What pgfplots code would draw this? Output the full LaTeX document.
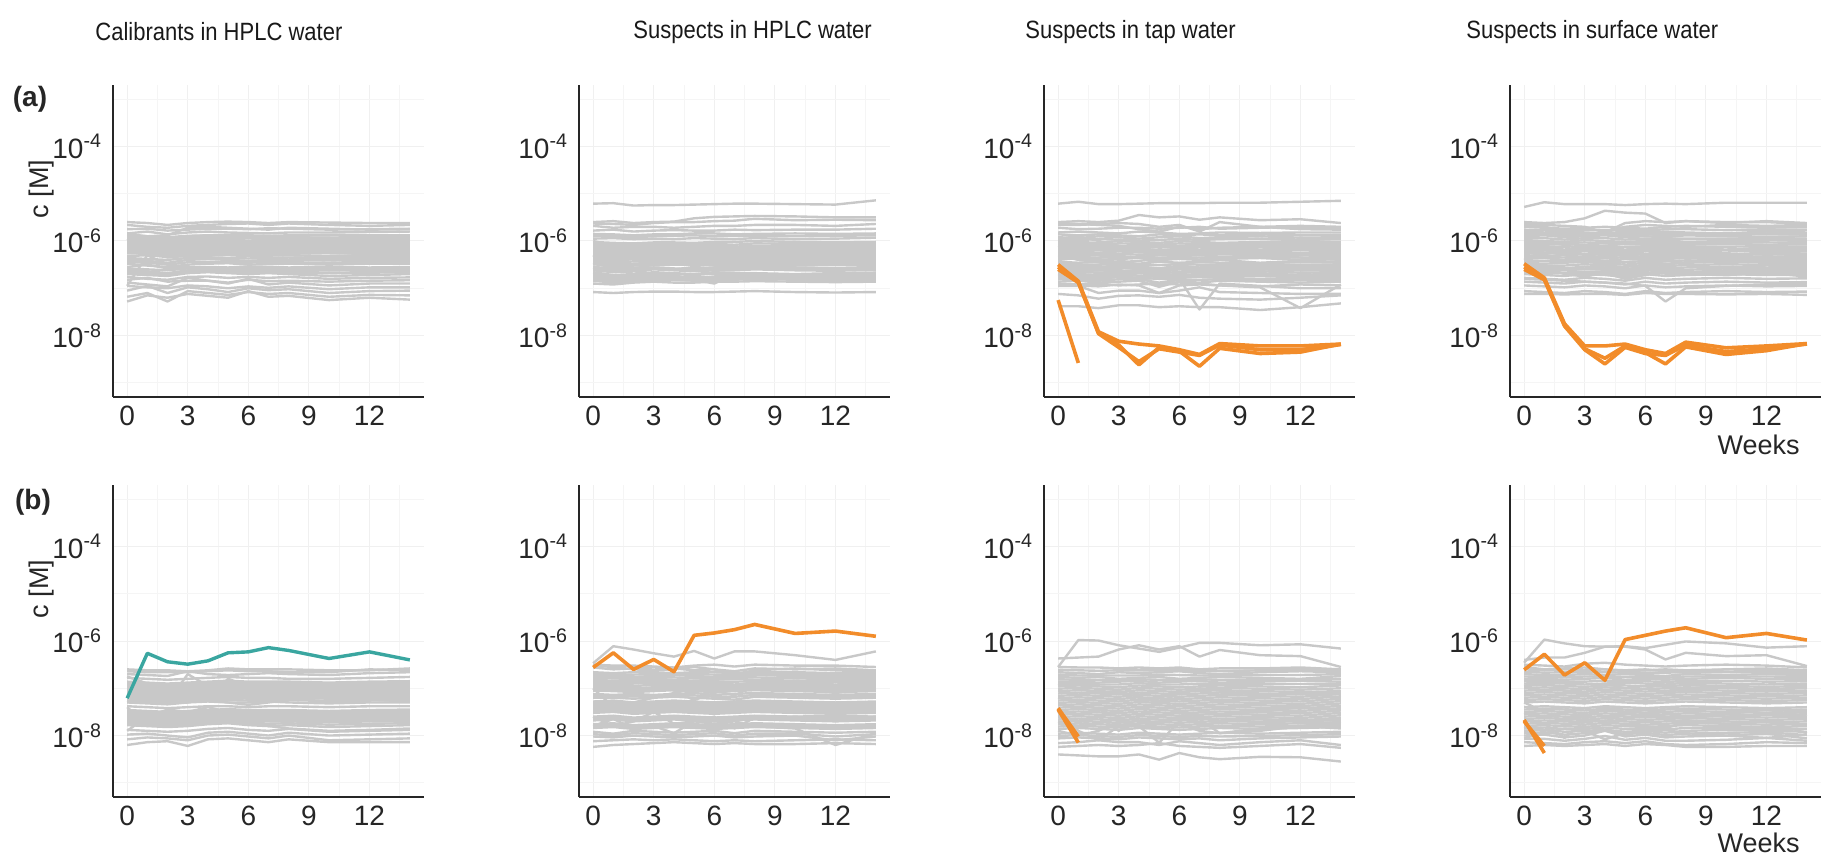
\documentclass[border=0pt]{standalone}
\usepackage{fontspec}
\setmainfont{Liberation Sans}
\usepackage{pgfplots}
\usepackage{pgfplotstable}
\pgfplotsset{compat=1.18}

\definecolor{lg}{RGB}{200,200,200}
\definecolor{orng}{RGB}{242,140,42}
\definecolor{tealc}{RGB}{58,166,160}

\newcommand{\tr}[2]{\pgfplotstabletranspose[colnames from=id, input colnames to=wk]{#1}{#2}}
\newcommand{\plotset}[4]{\pgfplotsinvokeforeach{1,...,#3}{\addplot[#4] table[x=wk, y expr={10^(\thisrow{#2##1})}] {#1};}}

% ---------- values are log10(c [M]) per series (rows), weeks as columns ----------
\pgfplotstableread{
id 0 1 2 3 4 5 6 7 8 10 12 14
s1  -5.60 -5.62 -5.66 -5.62 -5.60 -5.59 -5.60 -5.62 -5.60 -5.61 -5.62 -5.62
s2  -5.66 -5.70 -5.72 -5.68 -5.66 -5.64 -5.63 -5.66 -5.63 -5.66 -5.68 -5.66
s3  -5.75 -5.74 -5.78 -5.76 -5.74 -5.74 -5.75 -5.73 -5.74 -5.76 -5.75 -5.74
s4  -5.84 -5.80 -5.86 -5.82 -5.80 -5.82 -5.83 -5.84 -5.82 -5.82 -5.81 -5.80
s5  -5.90 -5.92 -5.94 -5.90 -5.88 -5.90 -5.90 -5.91 -5.89 -5.88 -5.90 -5.89
s6  -5.95 -5.96 -5.99 -5.96 -5.96 -5.95 -5.94 -5.96 -5.95 -5.95 -5.96 -5.95
s7  -6.00 -6.02 -6.05 -6.01 -6.00 -6.00 -6.01 -6.00 -6.02 -6.00 -6.01 -6.00
s8  -6.04 -6.06 -6.08 -6.05 -6.04 -6.05 -6.04 -6.06 -6.05 -6.04 -6.05 -6.04
s9  -6.08 -6.10 -6.12 -6.09 -6.08 -6.09 -6.10 -6.09 -6.08 -6.10 -6.09 -6.08
s10 -6.12 -6.14 -6.16 -6.13 -6.12 -6.13 -6.12 -6.14 -6.13 -6.12 -6.13 -6.12
s11 -6.16 -6.20 -6.22 -6.18 -6.17 -6.16 -6.18 -6.17 -6.16 -6.18 -6.17 -6.16
s12 -6.20 -6.22 -6.25 -6.22 -6.20 -6.21 -6.22 -6.20 -6.21 -6.20 -6.21 -6.20
s13 -6.26 -6.27 -6.30 -6.27 -6.26 -6.26 -6.27 -6.26 -6.25 -6.26 -6.27 -6.26
s14 -6.32 -6.30 -6.34 -6.32 -6.31 -6.30 -6.32 -6.31 -6.30 -6.32 -6.31 -6.32
s15 -6.40 -6.42 -6.46 -6.40 -6.38 -6.40 -6.42 -6.40 -6.40 -6.41 -6.40 -6.40
s16 -6.48 -6.52 -6.55 -6.50 -6.48 -6.47 -6.50 -6.49 -6.48 -6.50 -6.48 -6.48
s17 -6.55 -6.50 -6.58 -6.56 -6.55 -6.56 -6.54 -6.55 -6.56 -6.55 -6.56 -6.55
s18 -6.62 -6.64 -6.68 -6.62 -6.60 -6.62 -6.61 -6.62 -6.64 -6.62 -6.63 -6.62
s19 -6.70 -6.72 -6.74 -6.68 -6.66 -6.68 -6.70 -6.68 -6.70 -6.74 -6.72 -6.70
s20 -6.76 -6.80 -6.82 -6.76 -6.75 -6.78 -6.76 -6.78 -6.76 -6.80 -6.78 -6.77
s21 -6.82 -6.78 -6.86 -6.84 -6.84 -6.88 -6.82 -6.85 -6.84 -6.86 -6.84 -6.83
s22 -6.88 -6.92 -6.96 -6.78 -6.84 -6.90 -6.80 -6.92 -6.88 -6.94 -6.90 -6.90
s23 -6.95 -6.98 -7.00 -6.94 -6.96 -7.00 -6.96 -6.99 -6.96 -7.02 -6.98 -6.98
s24 -7.05 -6.95 -7.10 -6.98 -7.02 -7.08 -7.00 -7.04 -7.02 -7.10 -7.06 -7.05
s25 -7.18 -7.10 -7.28 -7.06 -7.10 -7.14 -7.08 -7.12 -7.10 -7.18 -7.14 -7.15
s26 -7.28 -7.15 -7.20 -7.12 -7.16 -7.20 -7.06 -7.18 -7.16 -7.25 -7.20 -7.24
s27 -6.95 -6.30 -6.50 -6.55 -6.60 -6.58 -6.62 -6.60 -6.60 -6.62 -6.60 -6.60
s28 -5.95 -6.10 -6.35 -6.30 -6.30 -6.28 -6.30 -6.30 -6.30 -6.32 -6.30 -6.30
s29 -5.85 -5.90 -5.88 -5.72 -5.70 -5.72 -5.74 -5.76 -5.72 -5.74 -5.76 -5.75
s30 -6.10 -6.08 -6.12 -6.10 -6.06 -6.08 -6.10 -6.07 -6.08 -6.10 -6.09 -6.08
s31 -6.00 -6.04 -6.02 -6.00 -6.03 -6.02 -6.00 -6.03 -6.02 -6.00 -6.02 -6.03
s32 -6.14 -6.18 -6.20 -6.16 -6.15 -6.16 -6.15 -6.16 -6.17 -6.15 -6.16 -6.16
s33 -5.88 -5.90 -5.92 -5.89 -5.88 -5.87 -5.88 -5.89 -5.88 -5.87 -5.88 -5.88
s34 -5.93 -5.95 -5.97 -5.93 -5.92 -5.93 -5.92 -5.93 -5.92 -5.93 -5.94 -5.93
s35 -5.98 -6.00 -6.02 -5.98 -5.97 -5.98 -5.99 -5.98 -5.97 -5.98 -5.99 -5.98
s36 -6.02 -6.04 -6.06 -6.03 -6.02 -6.03 -6.02 -6.04 -6.03 -6.02 -6.03 -6.02
s37 -6.06 -6.08 -6.10 -6.07 -6.06 -6.07 -6.06 -6.07 -6.06 -6.07 -6.06 -6.06
s38 -6.10 -6.12 -6.14 -6.11 -6.10 -6.11 -6.11 -6.12 -6.11 -6.10 -6.11 -6.10
s39 -6.18 -6.20 -6.23 -6.20 -6.19 -6.18 -6.20 -6.19 -6.18 -6.19 -6.19 -6.18
s40 -6.23 -6.25 -6.28 -6.24 -6.23 -6.24 -6.24 -6.23 -6.23 -6.24 -6.24 -6.23
s41 -6.36 -6.38 -6.40 -6.36 -6.35 -6.36 -6.37 -6.36 -6.35 -6.36 -6.36 -6.36
s42 -6.44 -6.46 -6.50 -6.45 -6.44 -6.44 -6.46 -6.44 -6.45 -6.46 -6.44 -6.44
s43 -6.58 -6.60 -6.62 -6.58 -6.57 -6.58 -6.58 -6.59 -6.58 -6.58 -6.59 -6.58
s44 -6.66 -6.68 -6.70 -6.65 -6.64 -6.66 -6.66 -6.65 -6.67 -6.68 -6.67 -6.66
}\rgAa
\tr{\gAa}{\rgAa}

\pgfplotstableread{
id 0 1 2 3 4 5 6 7 8 10 12 14
s1  -5.21 -5.20 -5.25 -5.24 -5.24 -5.23 -5.22 -5.21 -5.21 -5.22 -5.23 -5.14
s2  -5.60 -5.58 -5.62 -5.60 -5.59 -5.52 -5.49 -5.48 -5.47 -5.48 -5.50 -5.50
s3  -5.63 -5.64 -5.66 -5.62 -5.60 -5.60 -5.58 -5.57 -5.53 -5.56 -5.55 -5.56
s4  -5.68 -5.72 -5.70 -5.70 -5.72 -5.70 -5.68 -5.68 -5.66 -5.66 -5.68 -5.64
s5  -5.78 -5.76 -5.80 -5.78 -5.77 -5.78 -5.78 -5.76 -5.77 -5.76 -5.76 -5.74
s6  -5.85 -5.86 -5.88 -5.86 -5.86 -5.84 -5.84 -5.86 -5.85 -5.84 -5.85 -5.84
s7  -5.95 -5.94 -5.96 -5.95 -5.96 -5.94 -5.95 -5.96 -5.94 -5.96 -5.95 -5.93
s8  -6.02 -6.04 -6.05 -6.03 -6.03 -6.04 -6.02 -6.02 -6.00 -6.02 -6.03 -6.02
s9  -6.10 -6.12 -6.12 -6.10 -6.11 -6.10 -6.10 -6.12 -6.10 -6.10 -6.11 -6.09
s10 -6.16 -6.18 -6.17 -6.16 -6.16 -6.18 -6.17 -6.16 -6.15 -6.17 -6.16 -6.15
s11 -6.22 -6.24 -6.26 -6.24 -6.22 -6.24 -6.22 -6.23 -6.22 -6.22 -6.23 -6.21
s12 -6.28 -6.30 -6.30 -6.28 -6.29 -6.28 -6.28 -6.30 -6.27 -6.28 -6.29 -6.27
s13 -6.34 -6.36 -6.36 -6.34 -6.35 -6.33 -6.34 -6.34 -6.33 -6.34 -6.35 -6.33
s14 -6.40 -6.44 -6.38 -6.40 -6.42 -6.38 -6.40 -6.40 -6.39 -6.40 -6.41 -6.39
s15 -6.46 -6.50 -6.48 -6.46 -6.47 -6.45 -6.46 -6.45 -6.45 -6.47 -6.46 -6.45
s16 -6.30 -6.62 -6.50 -6.52 -6.50 -6.50 -6.52 -6.50 -6.51 -6.52 -6.50 -6.50
s17 -6.55 -6.58 -6.56 -6.56 -6.58 -6.60 -6.56 -6.54 -6.55 -6.56 -6.57 -6.55
s18 -6.62 -6.66 -6.64 -6.60 -6.62 -6.64 -6.62 -6.62 -6.60 -6.62 -6.63 -6.61
s19 -6.66 -6.72 -6.70 -6.66 -6.68 -6.70 -6.66 -6.68 -6.68 -6.70 -6.68 -6.67
s20 -6.72 -6.76 -6.74 -6.72 -6.72 -6.82 -6.90 -6.70 -6.72 -6.74 -6.72 -6.72
s21 -6.78 -6.82 -6.80 -6.78 -6.78 -6.76 -6.78 -6.78 -6.76 -6.78 -6.78 -6.77
s22 -6.84 -6.88 -6.86 -6.84 -6.82 -6.84 -6.84 -6.82 -6.80 -6.82 -6.84 -6.82
s23 -6.90 -6.92 -6.88 -6.86 -6.88 -6.88 -6.86 -6.86 -6.85 -6.86 -6.87 -6.86
s24 -7.08 -7.10 -7.08 -7.07 -7.07 -7.08 -7.08 -7.07 -7.06 -7.08 -7.09 -7.08
s25 -6.00 -6.10 -6.28 -6.20 -6.30 -6.26 -6.22 -6.20 -6.24 -6.26 -6.22 -6.20
s26 -6.50 -6.40 -6.58 -6.50 -6.40 -6.35 -6.40 -6.38 -6.36 -6.40 -6.38 -6.36
s27 -5.90 -5.90 -5.92 -5.90 -5.89 -5.88 -5.90 -5.89 -5.90 -5.90 -5.89 -5.88
s28 -6.60 -6.52 -6.70 -6.58 -6.60 -6.55 -6.58 -6.60 -6.56 -6.58 -6.60 -6.62
s29 -6.06 -6.08 -6.08 -6.06 -6.07 -6.06 -6.06 -6.08 -6.05 -6.06 -6.07 -6.05
s30 -6.13 -6.15 -6.14 -6.13 -6.13 -6.14 -6.13 -6.14 -6.12 -6.13 -6.14 -6.12
s31 -6.19 -6.21 -6.22 -6.20 -6.19 -6.21 -6.20 -6.19 -6.18 -6.20 -6.19 -6.18
s32 -6.25 -6.27 -6.28 -6.26 -6.25 -6.26 -6.25 -6.26 -6.24 -6.25 -6.26 -6.24
s33 -6.31 -6.33 -6.33 -6.31 -6.32 -6.30 -6.31 -6.32 -6.30 -6.31 -6.32 -6.30
s34 -6.37 -6.40 -6.37 -6.37 -6.38 -6.36 -6.37 -6.37 -6.36 -6.37 -6.38 -6.36
s35 -6.43 -6.47 -6.43 -6.43 -6.44 -6.42 -6.43 -6.42 -6.42 -6.44 -6.43 -6.42
s36 -6.49 -6.54 -6.52 -6.49 -6.50 -6.48 -6.49 -6.48 -6.48 -6.49 -6.48 -6.47
s37 -6.58 -6.62 -6.60 -6.58 -6.60 -6.62 -6.59 -6.58 -6.58 -6.59 -6.60 -6.58
s38 -6.69 -6.74 -6.72 -6.69 -6.70 -6.72 -6.69 -6.70 -6.70 -6.72 -6.70 -6.70
s39 -6.75 -6.79 -6.77 -6.75 -6.75 -6.79 -6.75 -6.74 -6.74 -6.76 -6.75 -6.75
s40 -6.81 -6.85 -6.83 -6.81 -6.80 -6.80 -6.81 -6.80 -6.78 -6.80 -6.81 -6.80
}\rgAb
\tr{\gAb}{\rgAb}

\pgfplotstableread{
id 0 1 2 3 4 5 6 7 8 10 12 14
s1  -5.21 -5.17 -5.22 -5.22 -5.21 -5.20 -5.20 -5.20 -5.19 -5.19 -5.17 -5.15
s2  -5.60 -5.58 -5.60 -5.57 -5.45 -5.50 -5.48 -5.55 -5.50 -5.56 -5.54 -5.62
s3  -5.66 -5.66 -5.64 -5.62 -5.64 -5.70 -5.66 -5.80 -5.60 -5.70 -5.68 -5.70
s4  -5.72 -5.75 -5.74 -5.72 -5.72 -5.74 -5.72 -5.70 -5.74 -5.72 -5.70 -5.74
s5  -5.82 -5.80 -5.82 -5.84 -5.80 -5.82 -5.85 -5.84 -5.82 -5.83 -5.82 -5.82
s6  -5.92 -5.94 -5.90 -5.92 -5.95 -5.92 -5.90 -5.94 -5.92 -5.90 -5.93 -5.92
s7  -6.00 -6.02 -6.04 -6.00 -6.02 -6.04 -6.00 -6.02 -6.04 -6.02 -6.00 -6.02
s8  -6.08 -6.10 -6.10 -6.12 -6.08 -6.10 -6.10 -6.08 -6.12 -6.10 -6.08 -6.10
s9  -6.15 -6.18 -6.16 -6.18 -6.16 -6.20 -6.16 -6.18 -6.15 -6.18 -6.16 -6.18
s10 -6.22 -6.24 -6.25 -6.22 -6.24 -6.26 -6.22 -6.25 -6.22 -6.24 -6.26 -6.24
s11 -6.30 -6.32 -6.30 -6.32 -6.34 -6.30 -6.32 -6.30 -6.33 -6.32 -6.30 -6.31
s12 -6.36 -6.38 -6.40 -6.38 -6.36 -6.40 -6.38 -6.40 -6.38 -6.36 -6.40 -6.38
s13 -6.44 -6.46 -6.44 -6.46 -6.48 -6.44 -6.46 -6.44 -6.46 -6.48 -6.44 -6.46
s14 -6.52 -6.54 -6.55 -6.52 -6.54 -6.58 -6.52 -6.56 -6.54 -6.52 -6.55 -6.53
s15 -6.60 -6.62 -6.62 -6.64 -6.62 -6.66 -6.60 -6.64 -6.62 -6.60 -6.62 -6.62
s16 -6.68 -6.70 -6.72 -6.70 -6.68 -6.72 -6.70 -6.72 -6.70 -6.68 -6.72 -6.70
s17 -6.76 -6.78 -6.80 -6.76 -6.78 -6.80 -6.78 -6.76 -6.78 -6.80 -6.78 -6.78
s18 -6.86 -6.84 -6.88 -6.86 -6.84 -6.97 -6.86 -6.88 -6.84 -6.86 -6.88 -6.86
s19 -6.92 -6.94 -6.96 -6.92 -6.94 -7.10 -6.94 -6.92 -6.94 -6.96 -6.92 -6.94
s20 -6.95 -6.95 -7.10 -7.05 -7.05 -7.10 -7.05 -6.98 -7.08 -7.10 -7.12 -7.12
s21 -7.12 -7.15 -7.22 -7.16 -7.15 -7.18 -7.14 -7.20 -7.22 -7.24 -7.20 -7.15
s22 -7.38 -7.38 -7.42 -7.36 -7.36 -7.40 -7.38 -7.40 -7.40 -7.46 -7.40 -7.32
s23 -6.70 -6.80 -6.82 -6.75 -6.78 -6.80 -6.80 -7.45 -6.90 -6.95 -7.00 -7.00
s24 -6.90 -6.92 -6.90 -6.94 -6.92 -6.90 -6.92 -6.90 -6.94 -6.98 -7.42 -6.92
s25 -6.10 -6.20 -6.30 -6.40 -6.50 -6.40 -6.30 -6.40 -6.35 -6.30 -6.35 -6.40
s26 -5.95 -5.90 -6.00 -6.10 -6.15 -6.20 -6.25 -6.30 -6.25 -6.20 -6.15 -6.05
s27 -6.30 -6.40 -6.45 -6.55 -6.60 -6.80 -6.70 -6.60 -6.65 -6.60 -6.62 -6.55
s28 -5.62 -5.64 -5.66 -5.68 -5.75 -5.80 -5.70 -5.75 -5.72 -5.70 -5.75 -5.76
s29 -6.60 -6.64 -6.62 -6.60 -6.75 -6.95 -6.80 -6.70 -6.72 -6.70 -6.72 -6.68
s30 -6.40 -6.36 -6.38 -6.45 -6.42 -6.38 -6.50 -6.44 -6.40 -6.46 -6.42 -6.44
s31 -5.86 -5.88 -5.86 -5.88 -5.90 -5.86 -5.88 -5.86 -5.88 -5.86 -5.88 -5.87
s32 -5.96 -5.98 -5.96 -5.97 -5.99 -5.98 -5.95 -5.98 -5.96 -5.95 -5.97 -5.96
s33 -6.04 -6.06 -6.07 -6.05 -6.06 -6.08 -6.05 -6.06 -6.08 -6.06 -6.04 -6.06
s34 -6.12 -6.14 -6.13 -6.15 -6.12 -6.14 -6.13 -6.12 -6.14 -6.13 -6.12 -6.14
s35 -6.19 -6.21 -6.20 -6.21 -6.20 -6.23 -6.19 -6.21 -6.18 -6.21 -6.20 -6.21
s36 -6.26 -6.28 -6.28 -6.27 -6.29 -6.28 -6.27 -6.28 -6.28 -6.28 -6.28 -6.28
s37 -6.33 -6.35 -6.35 -6.35 -6.35 -6.35 -6.35 -6.35 -6.36 -6.34 -6.35 -6.34
s38 -6.48 -6.50 -6.50 -6.49 -6.51 -6.51 -6.49 -6.50 -6.50 -6.50 -6.50 -6.50
s39 -6.56 -6.58 -6.58 -6.58 -6.58 -6.62 -6.56 -6.60 -6.58 -6.56 -6.58 -6.57
s40 -6.64 -6.66 -6.67 -6.67 -6.65 -6.69 -6.65 -6.68 -6.66 -6.64 -6.67 -6.66
s41 -6.72 -6.74 -6.76 -6.73 -6.73 -6.76 -6.74 -6.74 -6.74 -6.74 -6.75 -6.74
s42 -6.81 -6.81 -6.84 -6.81 -6.81 -6.88 -6.82 -6.82 -6.81 -6.83 -6.83 -6.82
}\rgAc
\tr{\gAc}{\rgAc}

\pgfplotstableread{
id 0 1 2 3 4 5 6 7 8 10 12 14
o1 -6.50 -6.85 -7.92 -8.12 -8.18 -8.22 -8.30 -8.40 -8.17 -8.22 -8.22 -8.18
o2 -6.55 -6.87 -7.95 -8.20 -8.62 -8.25 -8.33 -8.65 -8.27 -8.38 -8.35 -8.18
o3 -6.60 -6.88 -7.96 -8.25 -8.55 -8.28 -8.35 -8.42 -8.20 -8.30 -8.30 -8.19
}\roAc
\tr{\oAc}{\roAc}

\pgfplotstableread{
id 0 1 2 3 4 5 6 7 8 10 12 14
s1  -5.28 -5.18 -5.22 -5.22 -5.22 -5.24 -5.22 -5.21 -5.22 -5.19 -5.19 -5.19
s2  -5.60 -5.62 -5.60 -5.52 -5.36 -5.40 -5.42 -5.62 -5.58 -5.60 -5.60 -5.64
s3  -5.64 -5.66 -5.68 -5.70 -5.82 -5.62 -5.58 -5.60 -5.58 -5.62 -5.58 -5.62
s4  -5.70 -5.72 -5.74 -5.72 -5.70 -5.72 -5.74 -5.70 -5.68 -5.70 -5.72 -5.70
s5  -5.80 -5.82 -5.80 -5.82 -5.84 -5.80 -5.82 -5.80 -5.82 -5.84 -5.80 -5.82
s6  -5.90 -5.88 -5.92 -5.90 -5.88 -5.92 -5.90 -5.92 -5.88 -5.90 -5.92 -5.90
s7  -5.98 -6.00 -6.02 -5.98 -6.00 -6.02 -6.00 -5.98 -6.02 -6.00 -5.98 -6.00
s8  -6.06 -6.08 -6.06 -6.08 -6.10 -6.06 -6.08 -6.06 -6.08 -6.06 -6.08 -6.07
s9  -6.14 -6.16 -6.18 -6.14 -6.16 -6.18 -6.16 -6.14 -6.16 -6.18 -6.14 -6.16
s10 -6.22 -6.20 -6.24 -6.22 -6.24 -6.26 -6.22 -6.24 -6.22 -6.20 -6.24 -6.22
s11 -6.30 -6.32 -6.30 -6.34 -6.32 -6.30 -6.34 -6.32 -6.30 -6.32 -6.34 -6.31
s12 -6.38 -6.36 -6.40 -6.38 -6.42 -6.38 -6.40 -6.38 -6.36 -6.40 -6.38 -6.39
s13 -6.46 -6.48 -6.46 -6.44 -6.48 -6.50 -6.46 -6.48 -6.46 -6.44 -6.46 -6.47
s14 -6.54 -6.56 -6.58 -6.54 -6.56 -6.60 -6.54 -6.58 -6.56 -6.54 -6.56 -6.55
s15 -6.62 -6.64 -6.62 -6.66 -6.64 -6.68 -6.62 -6.64 -6.66 -6.62 -6.64 -6.63
s16 -6.70 -6.72 -6.74 -6.70 -6.72 -6.76 -6.70 -6.74 -6.72 -6.70 -6.72 -6.71
s17 -6.78 -6.80 -6.82 -6.78 -6.80 -6.84 -6.78 -6.82 -6.80 -6.78 -6.80 -6.79
s18 -6.86 -6.88 -6.90 -6.86 -6.88 -6.92 -6.86 -6.90 -6.88 -6.86 -6.88 -6.87
s19 -6.94 -6.96 -6.98 -6.94 -6.96 -7.00 -6.94 -6.98 -6.96 -6.94 -6.96 -6.95
s20 -7.06 -7.08 -7.10 -7.06 -7.08 -7.12 -7.06 -7.10 -7.08 -7.06 -7.08 -7.07
s21 -7.12 -7.12 -7.13 -7.12 -7.12 -7.14 -7.10 -7.12 -7.12 -7.13 -7.12 -7.14
s22 -6.80 -6.82 -6.84 -6.86 -6.88 -6.90 -6.95 -7.28 -7.00 -6.95 -6.92 -6.90
s23 -6.00 -6.10 -6.30 -6.40 -6.50 -6.60 -6.55 -6.50 -6.45 -6.40 -6.42 -6.45
s24 -6.40 -6.20 -6.10 -6.15 -6.20 -6.50 -6.60 -6.40 -6.30 -6.35 -6.40 -6.38
s25 -5.66 -5.70 -5.78 -5.90 -5.82 -5.70 -5.66 -5.68 -5.70 -5.66 -5.68 -5.66
s26 -6.60 -6.55 -6.70 -6.75 -6.68 -6.80 -6.72 -6.66 -6.70 -6.72 -6.68 -6.75
s27 -6.25 -6.28 -6.20 -6.30 -6.35 -6.25 -6.30 -6.28 -6.26 -6.30 -6.28 -6.27
s28 -5.85 -5.86 -5.90 -5.86 -5.84 -5.88 -5.86 -5.87 -5.86 -5.84 -5.85 -5.86
s29 -5.76 -5.77 -5.77 -5.77 -5.77 -5.76 -5.78 -5.75 -5.75 -5.77 -5.76 -5.76
s30 -5.85 -5.85 -5.86 -5.86 -5.86 -5.86 -5.86 -5.86 -5.85 -5.87 -5.86 -5.86
s31 -5.94 -5.94 -5.97 -5.94 -5.94 -5.97 -5.95 -5.95 -5.95 -5.95 -5.95 -5.95
s32 -6.02 -6.04 -6.04 -6.03 -6.05 -6.04 -6.04 -6.02 -6.05 -6.03 -6.03 -6.04
s33 -6.10 -6.12 -6.12 -6.11 -6.13 -6.12 -6.12 -6.10 -6.12 -6.12 -6.11 -6.12
s34 -6.18 -6.18 -6.21 -6.18 -6.20 -6.22 -6.19 -6.19 -6.19 -6.19 -6.19 -6.19
s35 -6.26 -6.26 -6.27 -6.28 -6.28 -6.28 -6.28 -6.28 -6.26 -6.26 -6.29 -6.27
s36 -6.34 -6.34 -6.35 -6.36 -6.37 -6.34 -6.37 -6.35 -6.33 -6.36 -6.36 -6.35
s37 -6.42 -6.42 -6.43 -6.41 -6.45 -6.44 -6.43 -6.43 -6.41 -6.42 -6.42 -6.43
s38 -6.50 -6.52 -6.52 -6.49 -6.52 -6.55 -6.50 -6.53 -6.51 -6.49 -6.51 -6.51
s39 -6.58 -6.60 -6.60 -6.60 -6.60 -6.64 -6.58 -6.61 -6.61 -6.58 -6.60 -6.59
s40 -6.66 -6.68 -6.68 -6.68 -6.68 -6.72 -6.66 -6.69 -6.69 -6.66 -6.68 -6.67
}\rgAd
\tr{\gAd}{\rgAd}

\pgfplotstableread{
id 0 1 2 3 4 5 6 7 8 10 12 14
o1 -6.48 -6.78 -7.75 -8.22 -8.22 -8.18 -8.30 -8.38 -8.14 -8.26 -8.22 -8.17
o2 -6.55 -6.80 -7.78 -8.28 -8.48 -8.22 -8.36 -8.60 -8.24 -8.40 -8.32 -8.17
o3 -6.60 -6.82 -7.80 -8.30 -8.60 -8.25 -8.38 -8.42 -8.20 -8.34 -8.28 -8.18
}\roAd
\tr{\oAd}{\roAd}

\pgfplotstableread{
id 0 1 2 3 4 5 6 7 8 10 12 14
s1  -6.60 -6.62 -6.62 -6.64 -6.62 -6.58 -6.60 -6.60 -6.60 -6.62 -6.62 -6.58
s2  -6.70 -6.72 -6.74 -6.64 -6.70 -6.72 -6.70 -6.68 -6.70 -6.72 -6.68 -6.66
s3  -6.78 -6.80 -6.82 -6.80 -6.78 -6.76 -6.78 -6.78 -6.80 -6.80 -6.78 -6.76
s4  -6.86 -6.88 -6.90 -6.88 -6.86 -6.84 -6.86 -6.86 -6.86 -6.88 -6.86 -6.85
s5  -6.94 -6.96 -6.98 -6.96 -6.94 -6.92 -6.94 -6.94 -6.92 -6.94 -6.94 -6.93
s6  -7.00 -7.02 -7.04 -7.02 -7.00 -7.00 -7.02 -7.00 -7.00 -7.02 -7.00 -7.00
s7  -7.05 -7.06 -7.08 -7.06 -7.05 -7.04 -7.06 -7.05 -7.05 -7.06 -7.05 -7.04
s8  -7.10 -7.12 -7.14 -7.12 -7.10 -7.10 -7.12 -7.11 -7.10 -7.12 -7.11 -7.10
s9  -7.16 -7.18 -7.20 -7.16 -7.15 -7.16 -7.16 -7.15 -7.16 -7.18 -7.16 -7.15
s10 -7.22 -7.24 -7.26 -7.22 -7.22 -7.20 -7.22 -7.22 -7.20 -7.22 -7.22 -7.21
s11 -7.30 -7.32 -7.34 -7.30 -7.28 -7.30 -7.30 -7.28 -7.30 -7.32 -7.30 -7.30
s12 -7.38 -7.40 -7.42 -7.40 -7.38 -7.38 -7.40 -7.38 -7.38 -7.40 -7.38 -7.38
s13 -7.46 -7.48 -7.50 -7.48 -7.46 -7.44 -7.46 -7.46 -7.46 -7.48 -7.46 -7.45
s14 -7.52 -7.54 -7.56 -7.54 -7.52 -7.50 -7.52 -7.54 -7.52 -7.54 -7.52 -7.52
s15 -7.58 -7.60 -7.62 -7.60 -7.58 -7.56 -7.58 -7.58 -7.58 -7.60 -7.58 -7.57
s16 -7.64 -7.66 -7.68 -7.66 -7.64 -7.62 -7.64 -7.66 -7.64 -7.66 -7.64 -7.63
s17 -7.70 -7.72 -7.74 -7.72 -7.70 -7.68 -7.72 -7.70 -7.70 -7.72 -7.70 -7.70
s18 -7.78 -7.80 -7.82 -7.80 -7.76 -7.74 -7.78 -7.80 -7.78 -7.82 -7.80 -7.78
s19 -7.88 -7.90 -7.92 -7.90 -7.86 -7.84 -7.88 -7.90 -7.86 -7.92 -7.90 -7.88
s20 -7.98 -7.96 -8.00 -8.04 -7.94 -7.92 -7.96 -8.00 -7.94 -8.00 -7.98 -7.96
s21 -8.08 -8.04 -8.06 -8.10 -8.00 -7.98 -8.02 -8.06 -8.00 -8.10 -8.08 -8.06
s22 -8.20 -8.14 -8.12 -8.22 -8.08 -8.06 -8.10 -8.14 -8.08 -8.14 -8.14 -8.14
s23 -6.75 -6.90 -7.30 -6.70 -6.95 -6.90 -6.95 -7.00 -7.05 -7.10 -7.05 -7.00
s24 -7.30 -7.20 -7.10 -7.30 -7.20 -6.80 -6.95 -7.00 -7.10 -7.00 -7.10 -7.05
s25 -7.90 -7.60 -7.45 -7.50 -7.40 -7.50 -7.60 -7.62 -7.65 -7.60 -7.58 -7.60
s26 -7.40 -7.80 -7.70 -7.75 -7.60 -7.58 -7.60 -7.80 -7.85 -7.90 -7.88 -7.85
s27 -6.64 -6.66 -6.66 -6.66 -6.64 -6.62 -6.64 -6.64 -6.66 -6.66 -6.60 -6.62
s28 -7.10 -7.08 -7.12 -7.20 -7.25 -7.30 -7.35 -7.30 -7.25 -7.20 -7.24 -7.28
s29 -6.97 -6.99 -7.01 -6.99 -6.97 -6.96 -6.98 -6.97 -6.96 -6.98 -6.97 -6.96
s30 -7.03 -7.04 -7.06 -7.04 -7.03 -7.02 -7.04 -7.03 -7.03 -7.04 -7.03 -7.02
s31 -7.08 -7.09 -7.11 -7.09 -7.08 -7.07 -7.09 -7.08 -7.08 -7.09 -7.08 -7.07
s32 -7.13 -7.15 -7.17 -7.14 -7.13 -7.13 -7.14 -7.13 -7.13 -7.15 -7.14 -7.13
s33 -7.19 -7.21 -7.23 -7.19 -7.19 -7.18 -7.19 -7.19 -7.18 -7.20 -7.19 -7.18
s34 -7.26 -7.28 -7.30 -7.26 -7.25 -7.25 -7.26 -7.25 -7.25 -7.27 -7.26 -7.25
s35 -7.49 -7.51 -7.53 -7.51 -7.49 -7.47 -7.49 -7.50 -7.49 -7.51 -7.49 -7.48
s36 -7.55 -7.57 -7.59 -7.57 -7.55 -7.53 -7.55 -7.56 -7.55 -7.57 -7.55 -7.55
s37 -7.61 -7.63 -7.65 -7.63 -7.61 -7.59 -7.61 -7.62 -7.61 -7.63 -7.61 -7.60
s38 -7.67 -7.69 -7.71 -7.69 -7.67 -7.65 -7.68 -7.68 -7.67 -7.69 -7.67 -7.66
s39 -7.74 -7.76 -7.78 -7.76 -7.73 -7.71 -7.75 -7.75 -7.74 -7.77 -7.75 -7.74
s40 -6.90 -6.92 -6.94 -6.92 -6.90 -6.88 -6.90 -6.90 -6.89 -6.91 -6.90 -6.89
}\rgBa
\tr{\gBa}{\rgBa}

\pgfplotstableread{
id 0 1 2 3 4 5 6 7 8 10 12 14
o1 -7.21 -6.26 -6.44 -6.49 -6.42 -6.25 -6.23 -6.14 -6.20 -6.37 -6.23 -6.40
}\rtBa
\tr{\tBa}{\rtBa}

\pgfplotstableread{
id 0 1 2 3 4 5 6 7 8 10 12 14
s1  -6.47 -6.11 -6.18 -6.26 -6.33 -6.21 -6.37 -6.22 -6.22 -6.30 -6.40 -6.22
s2  -6.50 -6.52 -6.52 -6.54 -6.56 -6.52 -6.50 -6.54 -6.50 -6.52 -6.52 -6.55
s3  -6.56 -6.60 -6.58 -6.56 -6.58 -6.62 -6.60 -6.64 -6.58 -6.60 -6.58 -6.62
s4  -6.66 -6.68 -6.66 -6.66 -6.68 -6.66 -6.66 -6.68 -6.66 -6.66 -6.68 -6.68
s5  -6.74 -6.74 -6.76 -6.74 -6.72 -6.74 -6.76 -6.74 -6.72 -6.74 -6.74 -6.74
s6  -6.82 -6.84 -6.82 -6.80 -6.82 -6.84 -6.82 -6.80 -6.82 -6.84 -6.82 -6.82
s7  -6.90 -6.92 -6.90 -6.88 -6.90 -6.92 -6.90 -6.92 -6.88 -6.90 -6.92 -6.90
s8  -6.98 -6.98 -7.00 -6.98 -6.96 -6.98 -7.00 -6.98 -6.96 -6.98 -7.00 -6.98
s9  -7.05 -7.06 -7.08 -7.06 -7.04 -7.06 -7.08 -7.06 -7.04 -7.06 -7.08 -7.06
s10 -7.12 -7.14 -7.12 -7.14 -7.12 -7.10 -7.14 -7.12 -7.10 -7.12 -7.14 -7.12
s11 -7.20 -7.20 -7.22 -7.20 -7.18 -7.20 -7.22 -7.24 -7.18 -7.20 -7.22 -7.20
s12 -7.28 -7.26 -7.30 -7.28 -7.26 -7.28 -7.30 -7.28 -7.26 -7.28 -7.30 -7.28
s13 -7.36 -7.34 -7.38 -7.36 -7.34 -7.36 -7.38 -7.36 -7.34 -7.36 -7.38 -7.36
s14 -7.44 -7.42 -7.46 -7.44 -7.42 -7.44 -7.46 -7.44 -7.42 -7.44 -7.46 -7.44
s15 -7.52 -7.50 -7.54 -7.52 -7.50 -7.52 -7.54 -7.52 -7.50 -7.52 -7.54 -7.52
s16 -7.60 -7.58 -7.62 -7.60 -7.58 -7.60 -7.62 -7.60 -7.58 -7.60 -7.62 -7.60
s17 -7.68 -7.66 -7.70 -7.68 -7.66 -7.68 -7.70 -7.68 -7.66 -7.68 -7.70 -7.68
s18 -7.76 -7.74 -7.78 -7.76 -7.74 -7.76 -7.78 -7.76 -7.74 -7.76 -7.78 -7.76
s19 -7.84 -7.82 -7.86 -7.84 -7.82 -7.84 -7.86 -7.84 -7.82 -7.84 -7.86 -7.84
s20 -7.92 -7.96 -7.90 -7.92 -7.94 -7.92 -7.90 -7.95 -7.90 -7.92 -7.94 -7.92
s21 -8.02 -8.04 -8.00 -8.02 -8.04 -8.02 -8.00 -8.04 -8.02 -8.00 -8.10 -8.02
s22 -8.12 -8.10 -8.08 -8.10 -8.08 -8.10 -8.12 -8.10 -8.12 -8.10 -8.08 -8.10
s23 -8.24 -8.20 -8.18 -8.16 -8.14 -8.16 -8.18 -8.16 -8.18 -8.18 -8.16 -8.18
s24 -7.60 -7.80 -7.70 -7.50 -7.75 -7.70 -7.60 -7.85 -7.62 -7.60 -7.58 -7.60
s25 -7.00 -7.40 -7.30 -7.20 -7.10 -7.00 -7.05 -7.15 -6.95 -7.00 -7.10 -7.00
s26 -7.80 -7.65 -7.85 -7.80 -7.95 -7.70 -7.75 -7.70 -7.80 -7.85 -8.20 -7.95
s27 -6.95 -6.90 -6.85 -6.95 -7.05 -7.25 -7.10 -7.00 -6.90 -6.95 -7.00 -7.05
s28 -6.52 -6.55 -6.60 -6.62 -6.60 -6.55 -6.60 -6.70 -6.62 -6.58 -6.62 -6.65
s29 -6.70 -6.71 -6.71 -6.70 -6.70 -6.70 -6.71 -6.71 -6.69 -6.70 -6.71 -6.71
s30 -6.78 -6.79 -6.79 -6.77 -6.77 -6.79 -6.79 -6.77 -6.77 -6.79 -6.78 -6.78
s31 -6.86 -6.88 -6.86 -6.84 -6.86 -6.88 -6.86 -6.86 -6.85 -6.87 -6.87 -6.86
s32 -6.94 -6.95 -6.95 -6.93 -6.93 -6.95 -6.95 -6.95 -6.92 -6.94 -6.96 -6.94
s33 -7.02 -7.02 -7.04 -7.02 -7.00 -7.02 -7.04 -7.02 -7.00 -7.02 -7.04 -7.02
s34 -7.16 -7.17 -7.17 -7.17 -7.15 -7.15 -7.18 -7.18 -7.14 -7.16 -7.18 -7.16
s35 -7.32 -7.30 -7.34 -7.32 -7.30 -7.32 -7.34 -7.32 -7.30 -7.32 -7.34 -7.32
s36 -7.48 -7.46 -7.50 -7.48 -7.46 -7.48 -7.50 -7.48 -7.46 -7.48 -7.50 -7.48
s37 -7.64 -7.62 -7.66 -7.64 -7.62 -7.64 -7.66 -7.64 -7.62 -7.64 -7.66 -7.64
s38 -7.80 -7.78 -7.82 -7.80 -7.78 -7.80 -7.82 -7.80 -7.78 -7.80 -7.82 -7.80
s39 -7.97 -8.00 -7.95 -7.97 -7.99 -7.97 -7.95 -8.00 -7.96 -7.96 -8.02 -7.97
s40 -7.40 -7.38 -7.42 -7.40 -7.38 -7.40 -7.42 -7.40 -7.38 -7.40 -7.42 -7.40
}\rgBb
\tr{\gBb}{\rgBb}

\pgfplotstableread{
id 0 1 2 3 4 5 6 7 8 10 12 14
o1 -6.56 -6.25 -6.60 -6.39 -6.65 -5.88 -5.83 -5.76 -5.65 -5.84 -5.79 -5.90
}\roBb
\tr{\oBb}{\roBb}

\pgfplotstableread{
id 0 1 2 3 4 5 6 7 8 10 12 14
s1  -6.55 -5.98 -5.99 -6.09 -6.16 -6.23 -6.14 -6.04 -6.04 -6.09 -6.07 -6.16
s2  -6.37 -6.35 -6.33 -6.18 -6.09 -6.18 -6.11 -6.33 -6.19 -6.30 -6.32 -6.55
s3  -6.55 -6.56 -6.56 -6.58 -6.56 -6.58 -6.56 -6.60 -6.58 -6.58 -6.56 -6.60
s4  -6.66 -6.68 -6.70 -6.66 -6.68 -6.66 -6.64 -6.68 -6.70 -6.66 -6.64 -6.66
s5  -6.76 -6.78 -6.76 -6.80 -6.78 -6.76 -6.80 -6.78 -6.76 -6.78 -6.80 -6.74
s6  -6.86 -6.86 -6.88 -6.86 -6.84 -6.88 -6.86 -6.84 -6.88 -6.86 -6.84 -6.86
s7  -6.96 -6.94 -6.96 -6.98 -6.94 -6.96 -6.98 -6.96 -6.94 -6.96 -6.98 -6.94
s8  -7.06 -7.04 -7.06 -7.08 -7.04 -7.06 -7.08 -7.06 -7.04 -7.06 -7.08 -7.06
s9  -7.16 -7.14 -7.16 -7.18 -7.14 -7.16 -7.18 -7.16 -7.14 -7.16 -7.18 -7.12
s10 -7.26 -7.24 -7.26 -7.28 -7.24 -7.26 -7.28 -7.26 -7.24 -7.26 -7.28 -7.22
s11 -7.36 -7.34 -7.36 -7.38 -7.34 -7.36 -7.38 -7.36 -7.34 -7.36 -7.38 -7.32
s12 -7.46 -7.44 -7.46 -7.48 -7.44 -7.46 -7.48 -7.46 -7.44 -7.46 -7.48 -7.42
s13 -7.56 -7.54 -7.56 -7.58 -7.54 -7.56 -7.58 -7.56 -7.54 -7.56 -7.58 -7.52
s14 -7.66 -7.64 -7.66 -7.68 -7.64 -7.66 -7.68 -7.66 -7.64 -7.66 -7.68 -7.62
s15 -7.76 -7.74 -7.76 -7.78 -7.74 -7.76 -7.78 -7.76 -7.74 -7.76 -7.74 -7.72
s16 -7.86 -7.84 -7.86 -7.88 -7.84 -7.86 -7.88 -7.86 -7.84 -7.86 -7.84 -7.82
s17 -7.96 -7.94 -7.96 -7.98 -7.94 -7.96 -7.98 -7.96 -7.94 -7.96 -7.94 -7.92
s18 -8.06 -8.04 -8.06 -8.08 -8.04 -8.06 -8.08 -8.06 -8.10 -8.06 -8.04 -8.02
s19 -8.16 -8.14 -8.10 -8.14 -8.14 -8.20 -8.12 -8.16 -8.20 -8.14 -8.10 -8.20
s20 -8.24 -8.22 -8.20 -8.22 -8.20 -8.16 -8.22 -8.24 -8.26 -8.22 -8.18 -8.26
s21 -8.40 -8.42 -8.44 -8.44 -8.40 -8.51 -8.37 -8.46 -8.50 -8.45 -8.46 -8.55
s22 -7.70 -7.80 -7.60 -7.90 -7.60 -7.20 -7.50 -7.80 -7.70 -7.65 -7.70 -7.75
s23 -7.20 -7.30 -7.45 -7.60 -7.80 -8.15 -7.70 -7.50 -7.55 -7.50 -7.40 -7.45
s24 -7.50 -7.90 -8.10 -7.80 -7.75 -7.70 -7.60 -7.65 -7.95 -7.85 -7.80 -7.70
s25 -6.90 -7.00 -7.10 -7.05 -7.20 -7.30 -7.10 -7.00 -7.05 -7.15 -7.10 -7.20
s26 -7.90 -8.00 -7.90 -7.70 -7.80 -7.85 -7.75 -7.90 -7.95 -7.90 -7.80 -7.85
s27 -6.61 -6.62 -6.63 -6.62 -6.62 -6.62 -6.60 -6.64 -6.64 -6.62 -6.60 -6.63
s28 -6.71 -6.73 -6.73 -6.73 -6.73 -6.71 -6.72 -6.73 -6.73 -6.72 -6.72 -6.70
s29 -6.81 -6.82 -6.82 -6.83 -6.81 -6.82 -6.83 -6.81 -6.82 -6.82 -6.82 -6.80
s30 -6.91 -6.90 -6.92 -6.92 -6.89 -6.92 -6.92 -6.90 -6.91 -6.91 -6.91 -6.90
s31 -7.01 -6.99 -7.01 -7.03 -6.99 -7.01 -7.03 -7.01 -6.99 -7.01 -7.03 -7.00
s32 -7.11 -7.09 -7.11 -7.13 -7.09 -7.11 -7.13 -7.11 -7.09 -7.11 -7.13 -7.09
s33 -7.21 -7.19 -7.21 -7.23 -7.19 -7.21 -7.23 -7.21 -7.19 -7.21 -7.23 -7.17
s34 -7.31 -7.29 -7.31 -7.33 -7.29 -7.31 -7.33 -7.31 -7.29 -7.31 -7.33 -7.27
s35 -7.41 -7.39 -7.41 -7.43 -7.39 -7.41 -7.43 -7.41 -7.39 -7.41 -7.43 -7.37
s36 -7.51 -7.49 -7.51 -7.53 -7.49 -7.51 -7.53 -7.51 -7.49 -7.51 -7.53 -7.47
s37 -7.61 -7.59 -7.61 -7.63 -7.59 -7.61 -7.63 -7.61 -7.59 -7.61 -7.63 -7.57
s38 -7.71 -7.69 -7.71 -7.73 -7.69 -7.71 -7.73 -7.71 -7.69 -7.71 -7.70 -7.67
s39 -7.81 -7.79 -7.81 -7.83 -7.79 -7.81 -7.83 -7.81 -7.79 -7.81 -7.79 -7.77
s40 -8.01 -7.99 -8.01 -8.03 -7.99 -8.01 -8.03 -8.01 -8.02 -8.01 -7.99 -7.97
}\rgBc
\tr{\gBc}{\rgBc}

\pgfplotstableread{
id 0 1 2 3 4 5 6 7 8 10 12 14
s1  -6.46 -5.97 -6.05 -6.11 -6.12 -6.11 -6.15 -6.08 -6.01 -6.05 -6.14 -6.11
s2  -6.40 -6.35 -6.35 -6.25 -6.12 -6.12 -6.18 -6.39 -6.25 -6.32 -6.30 -6.53
s3  -6.50 -6.52 -6.54 -6.48 -6.46 -6.50 -6.52 -6.54 -6.52 -6.50 -6.52 -6.56
s4  -6.60 -6.62 -6.60 -6.62 -6.60 -6.64 -6.62 -6.60 -6.62 -6.60 -6.62 -6.64
s5  -6.70 -6.72 -6.72 -6.70 -6.72 -6.70 -6.72 -6.74 -6.70 -6.72 -6.70 -6.72
s6  -6.80 -6.80 -6.82 -6.80 -6.78 -6.82 -6.80 -6.82 -6.80 -6.78 -6.80 -6.80
s7  -6.90 -6.88 -6.90 -6.92 -6.90 -6.88 -6.90 -6.92 -6.88 -6.90 -6.92 -6.90
s8  -7.00 -6.98 -7.00 -7.02 -6.98 -7.00 -7.02 -7.00 -6.98 -7.00 -7.02 -7.00
s9  -7.10 -7.08 -7.10 -7.12 -7.08 -7.10 -7.12 -7.10 -7.08 -7.10 -7.12 -7.10
s10 -7.20 -7.18 -7.20 -7.22 -7.18 -7.20 -7.22 -7.20 -7.18 -7.20 -7.22 -7.20
s11 -7.30 -7.28 -7.30 -7.32 -7.28 -7.30 -7.32 -7.30 -7.28 -7.30 -7.32 -7.30
s12 -7.40 -7.38 -7.40 -7.42 -7.38 -7.40 -7.42 -7.40 -7.38 -7.40 -7.42 -7.40
s13 -7.50 -7.48 -7.50 -7.52 -7.48 -7.50 -7.52 -7.50 -7.48 -7.50 -7.52 -7.50
s14 -7.60 -7.58 -7.60 -7.62 -7.58 -7.60 -7.62 -7.60 -7.58 -7.60 -7.62 -7.60
s15 -7.70 -7.68 -7.70 -7.72 -7.68 -7.70 -7.72 -7.70 -7.68 -7.70 -7.72 -7.70
s16 -7.80 -7.78 -7.80 -7.82 -7.78 -7.80 -7.82 -7.80 -7.78 -7.80 -7.82 -7.80
s17 -7.90 -7.88 -7.92 -7.90 -7.88 -7.92 -7.90 -7.94 -7.90 -7.88 -7.90 -7.92
s18 -8.00 -7.98 -8.04 -8.00 -7.90 -8.02 -7.98 -8.04 -8.02 -8.00 -7.96 -8.06
s19 -8.14 -8.16 -8.18 -8.14 -8.12 -8.16 -8.12 -8.18 -8.20 -8.18 -8.14 -8.16
s20 -8.22 -8.20 -8.22 -8.20 -8.18 -8.22 -8.18 -8.20 -8.24 -8.24 -8.22 -8.22
s21 -7.30 -7.50 -7.70 -7.60 -7.40 -7.50 -7.60 -7.40 -7.50 -7.60 -7.55 -7.50
s22 -7.85 -7.75 -8.05 -7.70 -7.90 -7.75 -7.80 -7.85 -7.70 -7.75 -7.70 -7.95
s23 -6.95 -6.85 -7.05 -7.10 -6.90 -7.00 -6.95 -7.10 -7.00 -6.95 -7.05 -6.95
s24 -7.55 -7.45 -7.40 -7.65 -7.70 -7.55 -7.45 -7.60 -7.65 -7.55 -7.45 -7.60
s25 -6.55 -6.60 -6.58 -6.56 -6.60 -6.62 -6.60 -6.64 -6.66 -6.60 -6.58 -6.62
s26 -8.05 -7.95 -7.85 -7.90 -8.08 -7.95 -7.90 -7.88 -7.95 -8.00 -8.05 -7.98
s27 -6.65 -6.67 -6.66 -6.66 -6.66 -6.67 -6.67 -6.67 -6.66 -6.66 -6.66 -6.68
s28 -6.75 -6.76 -6.77 -6.75 -6.75 -6.76 -6.76 -6.78 -6.75 -6.75 -6.75 -6.76
s29 -6.85 -6.84 -6.86 -6.86 -6.84 -6.85 -6.85 -6.87 -6.84 -6.84 -6.86 -6.85
s30 -6.95 -6.93 -6.95 -6.97 -6.94 -6.94 -6.96 -6.96 -6.93 -6.95 -6.97 -6.95
s31 -7.05 -7.03 -7.05 -7.07 -7.03 -7.05 -7.07 -7.05 -7.03 -7.05 -7.07 -7.05
s32 -7.15 -7.13 -7.15 -7.17 -7.13 -7.15 -7.17 -7.15 -7.13 -7.15 -7.17 -7.15
s33 -7.25 -7.23 -7.25 -7.27 -7.23 -7.25 -7.27 -7.25 -7.23 -7.25 -7.27 -7.25
s34 -7.45 -7.43 -7.45 -7.47 -7.43 -7.45 -7.47 -7.45 -7.43 -7.45 -7.47 -7.45
s35 -7.55 -7.53 -7.55 -7.57 -7.53 -7.55 -7.57 -7.55 -7.53 -7.55 -7.57 -7.55
s36 -7.65 -7.63 -7.65 -7.67 -7.63 -7.65 -7.67 -7.65 -7.63 -7.65 -7.67 -7.65
s37 -7.75 -7.73 -7.75 -7.77 -7.73 -7.75 -7.77 -7.75 -7.73 -7.75 -7.77 -7.75
s38 -7.85 -7.83 -7.86 -7.86 -7.83 -7.86 -7.86 -7.87 -7.84 -7.84 -7.86 -7.86
s39 -7.95 -7.93 -7.98 -7.95 -7.89 -7.97 -7.94 -7.99 -7.96 -7.94 -7.93 -7.99
s40 -8.07 -8.07 -8.11 -8.07 -8.01 -8.09 -8.05 -8.11 -8.11 -8.09 -8.05 -8.11
}\rgBd
\tr{\gBd}{\rgBd}

\pgfplotstableread{
id 0 1 2 3 4 5 6 7 8 10 12 14
o1 -6.61 -6.28 -6.72 -6.46 -6.83 -5.97 -5.88 -5.79 -5.72 -5.93 -5.84 -5.98
}\roBd
\tr{\oBd}{\roBd}

\pgfplotsset{
  gline/.style={color=lg, line width=1.2pt, line join=round, mark=none},
  oline/.style={color=orng, line width=1.8pt, line join=round, mark=none},
  tline/.style={color=tealc, line width=1.7pt, line join=round, mark=none},
  mypanel/.style={
    scale only axis, width=155.5pt, height=156pt, anchor=south west,
    xmin=-0.7, xmax=14.7, ymin=5.0119e-10, ymax=1.9953e-3,
    axis x line=bottom, axis y line=left,
    axis line style={line width=1.3pt, -, black!85},
    xtick={0,3,6,9,12}, xticklabels={0,3,6,9,12},
    minor xtick={1.5,4.5,7.5,10.5,13.5},
    ytick={1e-8,1e-6,1e-4},
    yticklabels={10\textsuperscript{-8},10\textsuperscript{-6},10\textsuperscript{-4}},
    minor ytick={1e-9,1e-7,1e-5,1e-3},
    grid=both,
    major grid style={draw=black!6, line width=0.5pt},
    minor grid style={draw=black!4, line width=0.4pt},
    major tick length=0pt, minor tick length=0pt,
    tick label style={font=\fontsize{14}{16}\selectfont, text=black!85},
    xticklabel style={yshift=-1pt},
    yticklabel style={xshift=-2pt},
  }
}

\begin{document}
\begin{tikzpicture}
\useasboundingbox (0,0) rectangle (910.5pt,428.5pt);

% row (a)
\begin{semilogyaxis}[mypanel, at={(56.5pt,230pt)}]
\plotset{\gAa}{s}{44}{gline}
\end{semilogyaxis}
\begin{semilogyaxis}[mypanel, at={(289.5pt,230pt)}]
\plotset{\gAb}{s}{40}{gline}
\end{semilogyaxis}
\begin{semilogyaxis}[mypanel, at={(522pt,230pt)}]
\plotset{\gAc}{s}{42}{gline}
\plotset{\oAc}{o}{3}{oline}
\addplot[oline] coordinates {(0,5.62e-8) (1,2.63e-9)};
\end{semilogyaxis}
\begin{semilogyaxis}[mypanel, at={(755pt,230pt)}]
\plotset{\gAd}{s}{40}{gline}
\plotset{\oAd}{o}{3}{oline}
\end{semilogyaxis}

% row (b)
\begin{semilogyaxis}[mypanel, at={(56.5pt,30pt)}]
\plotset{\gBa}{s}{40}{gline}
\plotset{\tBa}{o}{1}{tline}
\end{semilogyaxis}
\begin{semilogyaxis}[mypanel, at={(289.5pt,30pt)}]
\plotset{\gBb}{s}{40}{gline}
\plotset{\oBb}{o}{1}{oline}
\end{semilogyaxis}
\begin{semilogyaxis}[mypanel, at={(522pt,30pt)}]
\plotset{\gBc}{s}{40}{gline}
\addplot[oline] coordinates {(0,3.80e-8) (1,9.55e-9)};
\addplot[oline] coordinates {(0,3.55e-8) (1,7.08e-9)};
\end{semilogyaxis}
\begin{semilogyaxis}[mypanel, at={(755pt,30pt)}]
\plotset{\gBd}{s}{40}{gline}
\plotset{\oBd}{o}{1}{oline}
\addplot[oline] coordinates {(0,2.14e-8) (1,4.27e-9)};
\addplot[oline] coordinates {(0,2.00e-8) (1,6.03e-9)};
\end{semilogyaxis}

% titles and labels
\begin{scope}[every node/.style={font=\fontsize{12.5}{14}\selectfont, text=black!90, anchor=west, inner sep=0pt}]
\node at (47.5pt,412.5pt) {\scalebox{0.88}[1]{Calibrants in HPLC water}};
\node at (316.5pt,412.5pt) {\scalebox{0.88}[1]{Suspects in HPLC water}};
\node at (512.5pt,412.5pt) {\scalebox{0.88}[1]{Suspects in tap water}};
\node at (733pt,412.5pt) {\scalebox{0.88}[1]{Suspects in surface water}};
\end{scope}
\begin{scope}[every node/.style={font=\fontsize{13.5}{15}\selectfont, text=black!85, inner sep=0pt}]
\node[anchor=east] at (900pt,206pt) {Weeks};
\node[anchor=east] at (900pt,7pt) {Weeks};
\node[rotate=90] at (21pt,334pt) {c [M]};
\node[rotate=90] at (21pt,134pt) {c [M]};
\node[font=\fontsize{14}{16}\selectfont\bfseries] at (15pt,379pt) {(a)};
\node[font=\fontsize{14}{16}\selectfont\bfseries] at (16.5pt,177.5pt) {(b)};
\end{scope}
\end{tikzpicture}
\end{document}
